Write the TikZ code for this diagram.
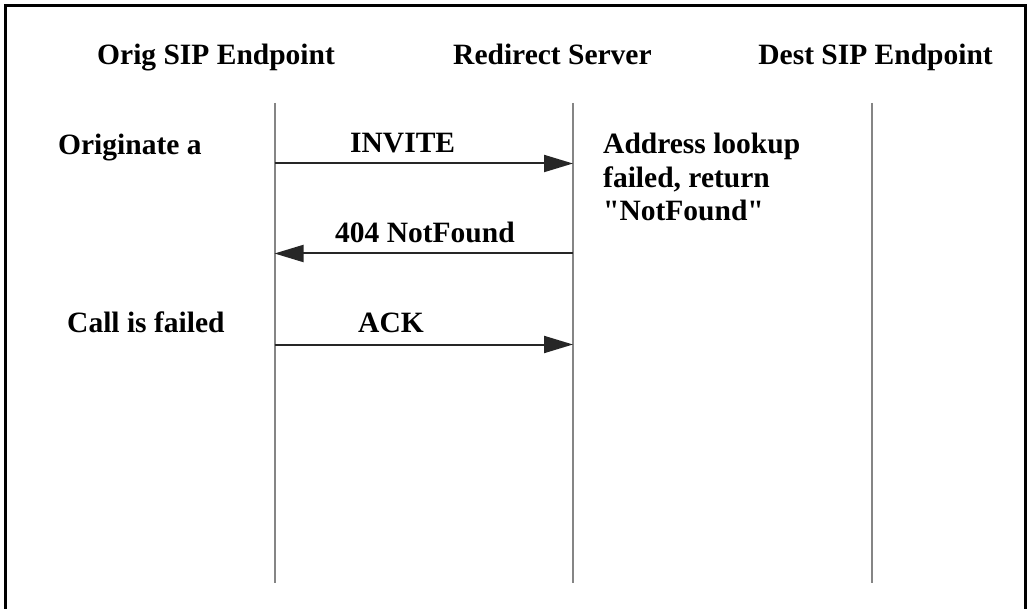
\documentclass[tikz,border=0pt]{standalone}
\usepackage{fontspec}
% straight ASCII quotes are wanted, so the TeX input ligatures stay off
\setmainfont{Liberation Serif}[Ligatures=TeXOff]
\usetikzlibrary{arrows.meta}

\begin{document}
\begin{tikzpicture}[x=1pt,y=-1pt,
  lbl/.style={inner sep=0pt,font=\fontsize{29.5}{34}\selectfont\bfseries},
  lifeline/.style={draw=black!48,line width=2pt},
  msg/.style={draw=black!85,line width=2pt,-{Triangle[length=29pt,width=17pt]}},
  frame/.style={draw=black,line width=3pt}]
  \useasboundingbox (0,0) rectangle (1030,609);
  % open frame (bottom edge falls outside the page)
  \draw[frame] (5.5,609) -- (5.5,5.5) -- (1025.5,5.5) -- (1025.5,609);

  % column headings
  \node[lbl,anchor=base west] (hOrig) at (97,65) {Orig SIP Endpoint};
  \node[lbl,anchor=base west] (hRed)  at (453,65) {Redirect Server};
  \node[lbl,anchor=base east] (hDest) at (993,65) {Dest SIP Endpoint};

  % lifelines
  \coordinate (oT) at (274.5,103); \coordinate (oB) at (274.5,583);
  \coordinate (rT) at (572.5,103); \coordinate (rB) at (572.5,583);
  \coordinate (dT) at (871.5,103); \coordinate (dB) at (871.5,583);
  \draw[lifeline] (oT) -- (oB);
  \draw[lifeline] (rT) -- (rB);
  \draw[lifeline] (dT) -- (dB);

  % message end points on the lifelines
  \coordinate (o1) at (274.5,163.5); \coordinate (r1) at (573,163.5);
  \coordinate (o2) at (274.5,253.5); \coordinate (r2) at (572.5,253.5);
  \coordinate (o3) at (274.5,344.5); \coordinate (r3) at (573,344.5);

  % messages
  \draw[msg] (o1) -- (r1);
  \draw[msg] (r2) -- (o2);
  \draw[msg] (o3) -- (r3);

  \node[lbl,anchor=base west] (mInvite) at (350,153) {INVITE};
  \node[lbl,anchor=base west] (mNotFound) at (335,243) {404 NotFound};
  \node[lbl,anchor=base west] (mAck) at (358,333) {ACK};

  % side notes
  \node[lbl,anchor=base west] (nOrig) at (58,155) {Originate a};
  \node[lbl,anchor=base west] (nFail) at (67,333) {Call is failed};
  \node[lbl,anchor=base west] (nAddr1) at (603,154) {Address lookup};
  \node[lbl,anchor=base west] (nAddr2) at (603,187.5) {failed, return};
  \node[lbl,anchor=base west] (nAddr3) at (603,221) {"NotFound"};
\end{tikzpicture}
\end{document}
